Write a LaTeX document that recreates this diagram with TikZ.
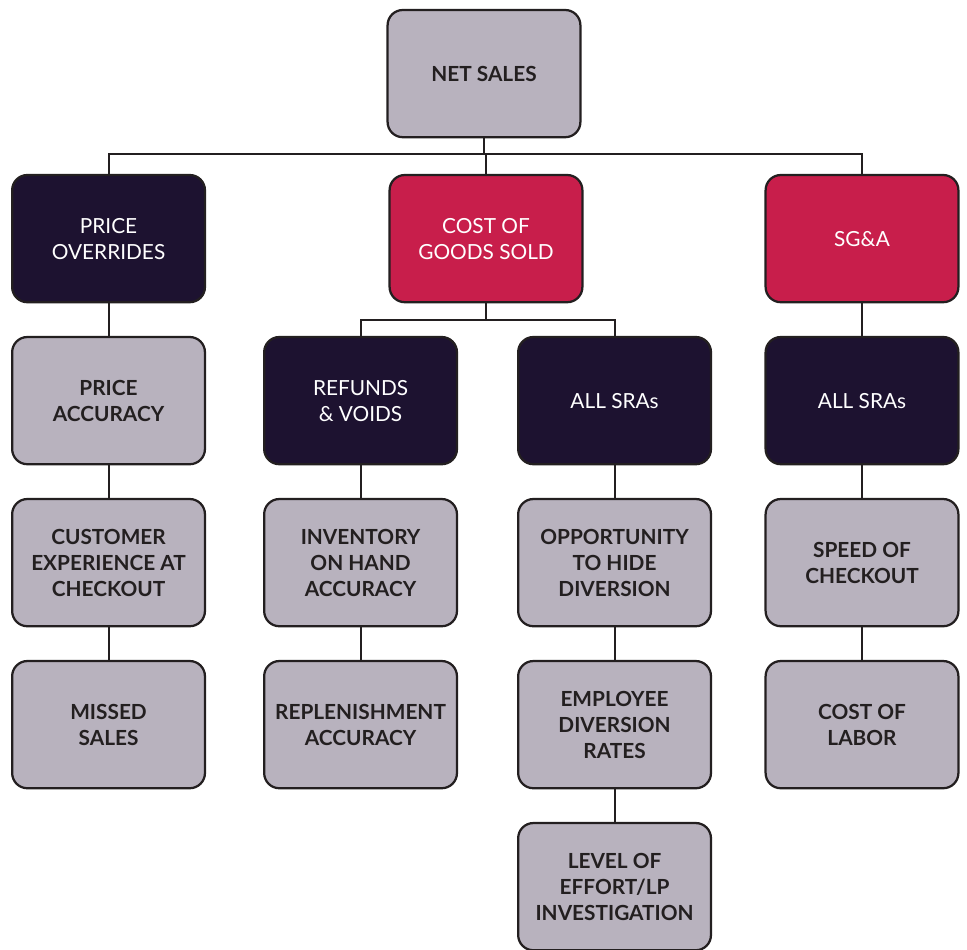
\documentclass[tikz,border=0pt]{standalone}
\usepackage{fontspec}
\setmainfont{Lato}
\usepackage{tikz}
\usetikzlibrary{shapes,arrows,positioning,calc}
\definecolor{boxgrey}{HTML}{B8B2BE}
\definecolor{boxdark}{HTML}{1D1230}
\definecolor{boxred}{HTML}{C81E4B}
\definecolor{linedark}{HTML}{231F20}
\tikzset{
	box/.style={rectangle, rounded corners=0.38cm, draw=linedark, line width=1.6pt, minimum width=4.82cm, minimum height=3.18cm, align=center, font=\fontsize{14.8}{18.5}\selectfont}, % every box in the tree
	greybox/.style={box, fill=boxgrey, text=linedark, font=\fontsize{14.8}{18.5}\selectfont\bfseries},
	darkbox/.style={box, fill=boxdark, text=white},
	redbox/.style={box, fill=boxred, text=white},
	link/.style={draw=linedark, line width=1.4pt}, % the connecting lines
	node distance=0.814cm,
}
\begin{document}
\begin{tikzpicture}
			\useasboundingbox (0,0) rectangle (24.175,-23.75);
			\node[greybox] (NET) at (12.1,-1.84) {NET SALES};
			\node[redbox, below=0.889cm of NET, xshift=0.05cm] (COGS) {COST OF\\GOODS SOLD};
			\node[darkbox, left=4.56cm of COGS] (PO) {PRICE\\OVERRIDES};
			\node[redbox, right=4.524cm of COGS] (SGA) {SG\&A};

			\node[greybox, below=of PO] (PA) {PRICE\\ACCURACY};
			\node[darkbox, right=1.424cm of PA] (REF) {REFUNDS\\\& VOIDS};
			\node[darkbox, right=1.474cm of REF] (SRA) {ALL SRAs};
			\node[darkbox, below=of SGA] (SRB) {ALL SRAs};

			\node[greybox, below=of PA] (CX) {CUSTOMER\\EXPERIENCE AT\\CHECKOUT};
			\node[greybox, below=of CX] (MS) {MISSED\\SALES};
			\node[greybox, below=of REF] (INV) {INVENTORY\\ON HAND\\ACCURACY};
			\node[greybox, below=of INV] (REP) {REPLENISHMENT\\ACCURACY};
			\node[greybox, below=of SRA] (OPP) {OPPORTUNITY\\TO HIDE\\DIVERSION};
			\node[greybox, below=of OPP] (EMP) {EMPLOYEE\\DIVERSION\\RATES};
			\node[greybox, below=of EMP] (LVL) {LEVEL OF\\EFFORT/LP\\INVESTIGATION};
			\node[greybox, below=of SRB] (SPD) {SPEED OF\\CHECKOUT};
			\node[greybox, below=of SPD] (LAB) {COST OF\\LABOR};

			% tree links
			\draw[link] (COGS.north) |- ++(0,0.5) coordinate (busA);
			\draw[link] (NET.south) -- (NET.south |- busA);
			\draw[link] (busA) -| (PO.north);
			\draw[link] (busA) -| (SGA.north);
			\draw[link] (COGS.south) -- ++(0,-0.425) coordinate (busB);
			\draw[link] (busB) -| (REF.north);
			\draw[link] (busB) -| (SRA.north);
			\draw[link] (PO) -- (PA) -- (CX) -- (MS);
			\draw[link] (REF) -- (INV) -- (REP);
			\draw[link] (SRA) -- (OPP) -- (EMP) -- (LVL);
			\draw[link] (SGA) -- (SRB) -- (SPD) -- (LAB);
		\end{tikzpicture}
\end{document}
